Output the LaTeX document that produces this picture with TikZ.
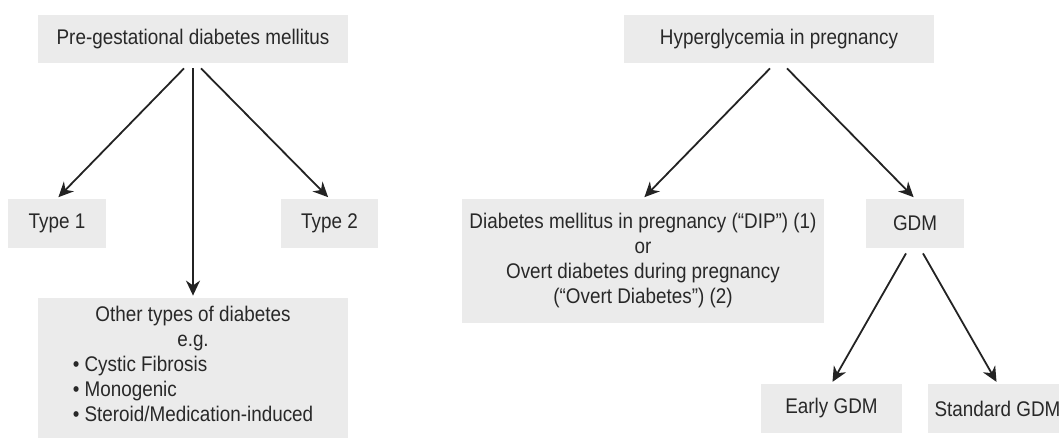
\documentclass[tikz,border=0pt]{standalone}
\usepackage{fontspec}
\setmainfont{Liberation Sans}[FakeStretch=0.89]
\usetikzlibrary{arrows.meta}

\definecolor{boxgray}{RGB}{235,235,235}
\definecolor{txtgray}{RGB}{40,40,40}
\definecolor{arrgray}{RGB}{35,35,35}

\begin{document}
\begin{tikzpicture}[x=0.5pt, y=-0.5pt,
  box/.style={fill=boxgray, text=txtgray, inner sep=0pt, align=center,
    font=\fontsize{10.6}{12.5}\selectfont},
  arr/.style={-{Stealth[length=7.5pt,width=7pt]}, line width=0.9pt,
    draw=arrgray, shorten >=1pt}]
\useasboundingbox (0,0) rectangle (1059,439);
\clip (0,0) rectangle (1059,439);

% left tree
\node [box, minimum width=155pt, minimum height=24pt] (pregdm) at (193,39) {Pre-gestational diabetes mellitus};
\node [box, minimum width=49pt, minimum height=24.5pt] (type1) at (57,223.5) {Type 1};
\node [box, minimum width=48.5pt, minimum height=24.5pt] (type2) at (329.5,223.5) {Type 2};
\node [box, minimum width=155pt, minimum height=70pt] (other) at (193,368) {Other types of diabetes\\ e.g.\\
  \begin{tabular}[t]{@{}l@{}}• Cystic Fibrosis\\ • Monogenic\\ • Steroid/Medication-induced\end{tabular}};
\draw [arr] ([shift={(-9,5)}]pregdm.south) -- (type1.north);
\draw [arr] ([shift={(0,5)}]pregdm.south) -- (other.north);
\draw [arr] ([shift={(8,5)}]pregdm.south) -- (type2.north);

% right tree
\node [box, minimum width=155pt, minimum height=24pt] (hip) at (779,39) {Hyperglycemia in pregnancy};
\node [box, minimum width=181pt, minimum height=62pt] (dip) at (643,261) {Diabetes mellitus in pregnancy (“DIP”) (1)\\ or\\ Overt diabetes during pregnancy\\ (“Overt Diabetes”) (2)};
\node [box, minimum width=49pt, minimum height=24.5pt] (gdm) at (915,223.5) {GDM};
\node [box, minimum width=70.5pt, minimum height=24.5pt] (early) at (831.5,408.5) {Early GDM};
\node [box, minimum width=69.5pt, minimum height=24.5pt] (standard) at (997.5,408.5) {Standard GDM};
\draw [arr] ([shift={(-9,5)}]hip.south) -- (dip.north);
\draw [arr] ([shift={(8,5)}]hip.south) -- (gdm.north);
\draw [arr] ([shift={(-9,5)}]gdm.south) -- (early.north);
\draw [arr] ([shift={(8,5)}]gdm.south) -- (standard.north);
\end{tikzpicture}
\end{document}
